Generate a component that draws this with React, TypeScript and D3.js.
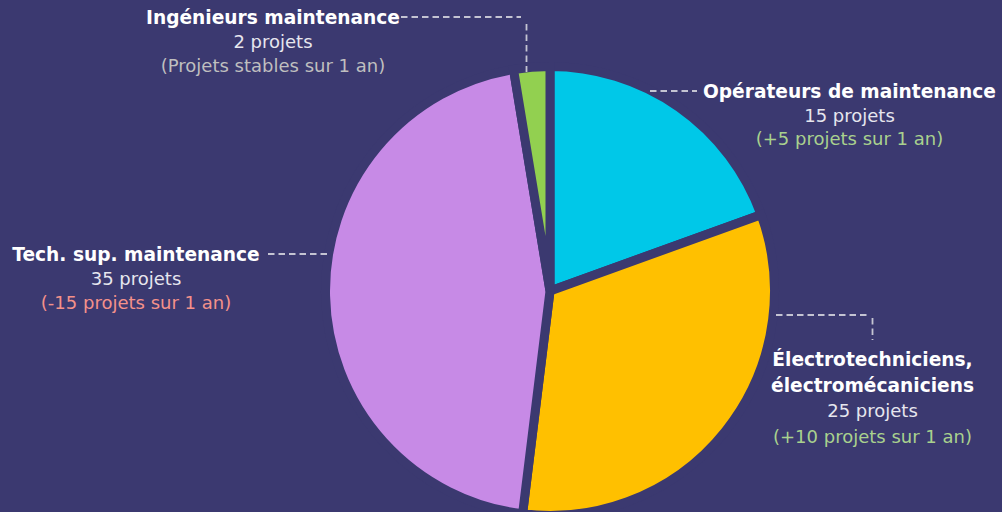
import React from "react";
import * as d3 from "d3";

const categories = [
  "Opérateurs de maintenance",
  "Électrotechniciens, électromécaniciens",
  "Tech. sup. maintenance",
  "Ingénieurs maintenance",
];
const values = [15, 25, 35, 2];
const changes = ["(+5 projets sur 1 an)", "(+10 projets sur 1 an)", "(-15 projets sur 1 an)", "(Projets stables sur 1 an)"];
const colors = ["#00c8e8", "#ffc000", "#c78ae6", "#92d050"];
const changeColors = ["#a9d18e", "#a9d18e", "#f4918a", "#bfbfbf"];

const W = 1002, H = 512;
const BG = "#3b3970";
const FONT = "'DejaVu Sans', sans-serif";

export default function App() {
  const cx = 550, cy = 291, r = 224.5;
  const pie = d3.pie<number>().sort(null).value((d) => d);
  const arcs = pie(values);
  const arc = d3.arc<d3.PieArcDatum<number>>().innerRadius(0).outerRadius(r);

  const labelPos = [
    { x: 849.5, y: 98, lh: 23.7, lines: [categories[0]] },
    { x: 872.5, y: 366, lh: 25.5, lines: ["Électrotechniciens,", "électromécaniciens"] },
    { x: 136, y: 261, lh: 24, lines: [categories[2]] },
    { x: 273, y: 24, lh: 24, lines: [categories[3]] },
  ];
  const dash = "#c4c4d2";

  return (
    <svg width={W} height={H} style={{ position: "absolute", left: 0, top: 0, display: "block" }}>
      <rect width={W} height={H} fill={BG} />
      <g transform={`translate(${cx},${cy})`}>
        {arcs.map((a, i) => (
          <path key={i} d={arc(a) || ""} fill={colors[i]} stroke={BG} strokeWidth={9} strokeLinejoin="miter" />
        ))}
      </g>
      <g stroke={dash} strokeWidth={1.8} strokeDasharray="6.5 4" fill="none">
        <polyline points="650,91 697,91" />
        <polyline points="776,315 868,315" />
        <polyline points="872.5,318 872.5,340" />
        <polyline points="268,254 328,254" />
        <polyline points="401,17 521,17" />
        <polyline points="526.5,24 526.5,72" />
      </g>
      {labelPos.map((l, i) => (
        <text key={i} textAnchor="middle" fontFamily={FONT}>
          {l.lines.map((t, j) => (
            <tspan key={j} x={l.x} y={l.y + j * l.lh} fill="#ffffff" fontWeight="bold" fontSize={18.6}>{t}</tspan>
          ))}
          <tspan x={l.x} y={l.y + l.lines.length * l.lh} fill="#e6e6ee" fontSize={18}>{`${values[i]} projets`}</tspan>
          <tspan x={l.x} y={l.y + (l.lines.length + 1) * l.lh} fill={changeColors[i]} fontSize={18}>{changes[i]}</tspan>
        </text>
      ))}
    </svg>
  );
}
